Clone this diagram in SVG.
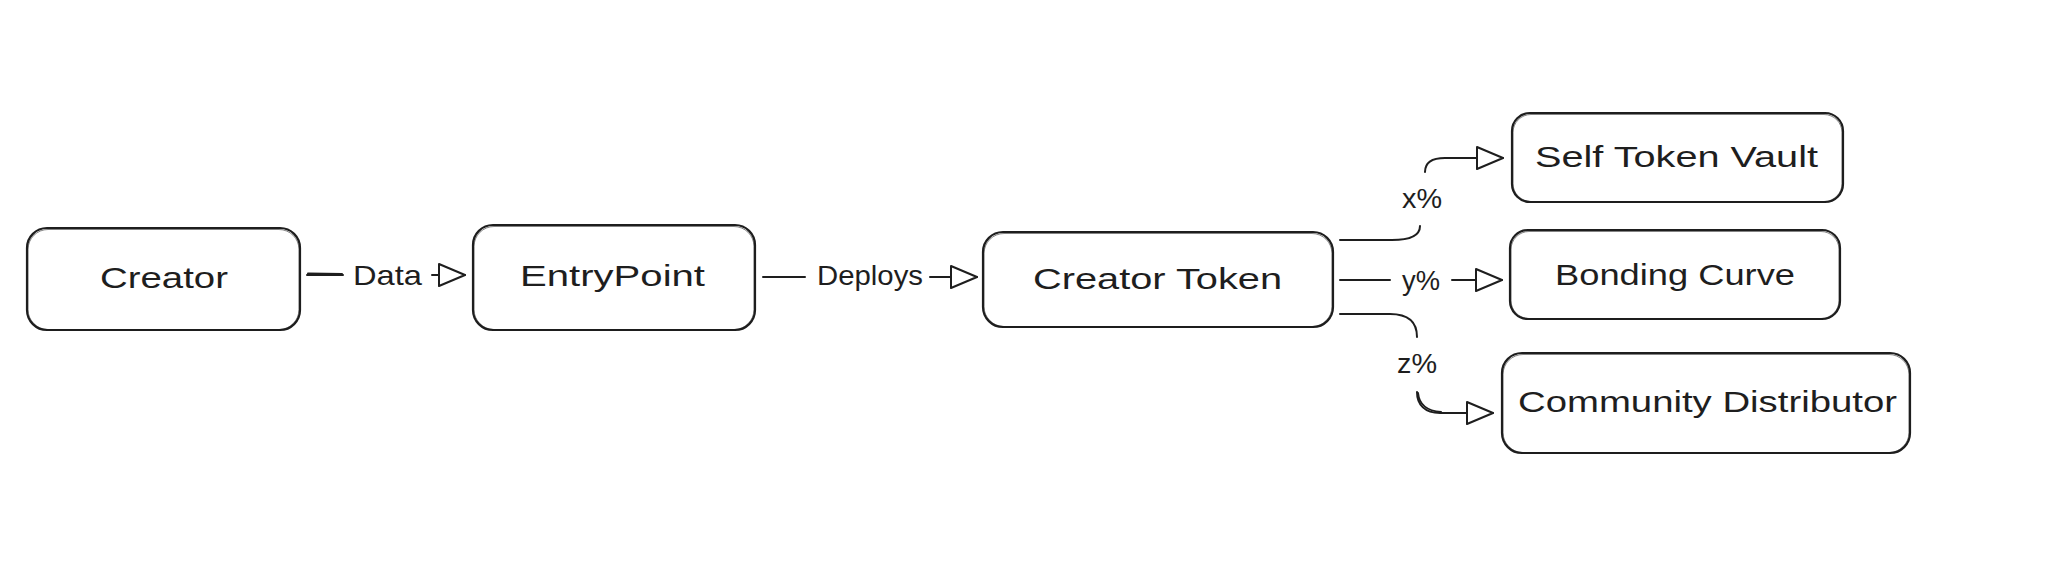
<svg xmlns="http://www.w3.org/2000/svg" width="2050" height="584" viewBox="0 0 2050 584">
<style>
.box{fill:#ffffff;stroke:#1e1e1e;stroke-width:2.2;}
.box2{fill:none;stroke:#1e1e1e;stroke-width:1;opacity:0.55;}
.t{font-family:"Liberation Sans",Arial,sans-serif;font-size:29px;fill:#1e1e1e;text-anchor:middle;}
.l{font-family:"Liberation Sans",Arial,sans-serif;font-size:28px;fill:#1e1e1e;text-anchor:middle;}
.c{fill:none;stroke:#1e1e1e;stroke-width:2;stroke-linecap:round;}
</style>
<defs>
<marker id="ah" markerUnits="userSpaceOnUse" markerWidth="30" markerHeight="26" refX="27" refY="12" orient="auto">
<path d="M1,1 L27,12 L1,23 Z" fill="#ffffff" stroke="#1e1e1e" stroke-width="2" stroke-linejoin="round"/>
</marker>
</defs>
<rect width="2050" height="584" fill="#ffffff"/>
<g id="connectors">
<path class="c" d="M307,275 L343,275"/>
<path class="c" d="M308,273.5 L342,274" stroke-width="1"/>
<path class="c" d="M432,275 L465,275" marker-end="url(#ah)"/>
<text class="l" x="387.5" y="285" textLength="69" lengthAdjust="spacingAndGlyphs">Data</text>
<path class="c" d="M763,277 L805,277"/>
<path class="c" d="M930,277 L977,277" marker-end="url(#ah)"/>
<text class="l" x="870" y="285" textLength="106" lengthAdjust="spacingAndGlyphs">Deploys</text>
<path class="c" d="M1340,240 L1392,240 C1410,240 1420,236 1420,226"/>
<path class="c" d="M1425,172 C1425,162 1432,158 1445,158 L1503,158" marker-end="url(#ah)"/>
<text class="l" x="1422" y="208" textLength="40" lengthAdjust="spacingAndGlyphs">x%</text>
<path class="c" d="M1340,280 L1390,280"/>
<path class="c" d="M1452,280 L1502,280" marker-end="url(#ah)"/>
<text class="l" x="1421" y="290" textLength="38" lengthAdjust="spacingAndGlyphs">y%</text>
<path class="c" d="M1340,314 L1390,314 C1408,314 1417,322 1417,337"/>
<path class="c" d="M1417,392 C1417,405 1425,413 1440,413 L1493,413" marker-end="url(#ah)"/>
<path class="c" d="M1418,393 C1419,404 1427,411 1441,412" stroke-width="1"/>
<text class="l" x="1417" y="373" textLength="40" lengthAdjust="spacingAndGlyphs">z%</text>
</g>
<g id="creator">
<rect class="box" x="27" y="228" width="273" height="102" rx="20"/>
<rect class="box2" x="28" y="229.5" width="271" height="100" rx="20"/>
<text class="t" x="164" y="288" textLength="128" lengthAdjust="spacingAndGlyphs">Creator</text>
</g>
<g id="entrypoint">
<rect class="box" x="473" y="225" width="282" height="105" rx="20"/>
<rect class="box2" x="474" y="226.5" width="280" height="103" rx="20"/>
<text class="t" x="612.5" y="286" textLength="185" lengthAdjust="spacingAndGlyphs">EntryPoint</text>
</g>
<g id="creator-token">
<rect class="box" x="983" y="232" width="350" height="95" rx="20"/>
<rect class="box2" x="984" y="233.5" width="348" height="93" rx="20"/>
<text class="t" x="1157.5" y="289" textLength="249" lengthAdjust="spacingAndGlyphs">Creator Token</text>
</g>
<g id="self-token-vault">
<rect class="box" x="1512" y="113" width="331" height="89" rx="18"/>
<rect class="box2" x="1513" y="114.5" width="329" height="87" rx="18"/>
<text class="t" x="1676.5" y="167" textLength="283" lengthAdjust="spacingAndGlyphs">Self Token Vault</text>
</g>
<g id="bonding-curve">
<rect class="box" x="1510" y="230" width="330" height="89" rx="18"/>
<rect class="box2" x="1511" y="231.5" width="328" height="87" rx="18"/>
<text class="t" x="1675" y="285" textLength="240" lengthAdjust="spacingAndGlyphs">Bonding Curve</text>
</g>
<g id="community-distributor">
<rect class="box" x="1502" y="353" width="408" height="100" rx="20"/>
<rect class="box2" x="1503" y="354.5" width="406" height="98" rx="20"/>
<text class="t" x="1707.5" y="412" textLength="379" lengthAdjust="spacingAndGlyphs">Community Distributor</text>
</g>
</svg>
